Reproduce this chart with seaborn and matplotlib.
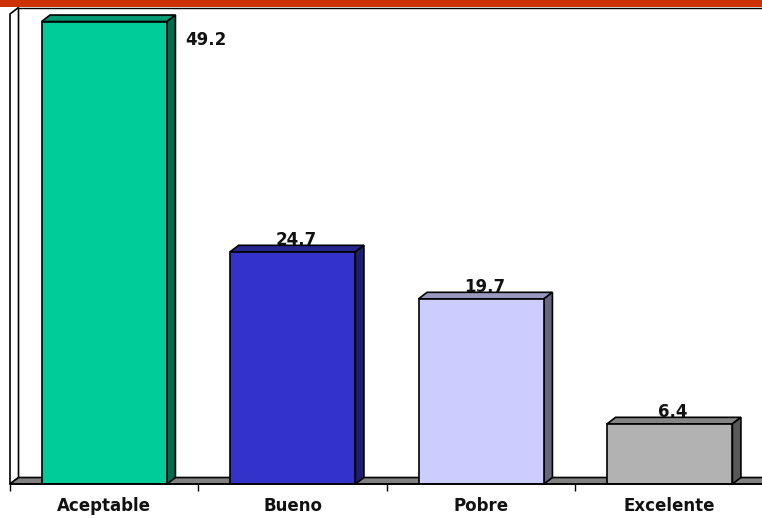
import matplotlib
matplotlib.use("Agg")
import matplotlib.pyplot as plt
from matplotlib.patches import Polygon, Rectangle
import pandas as pd
import seaborn as sns

categories = ["Aceptable", "Bueno", "Pobre", "Excelente"]
values = [49.2, 24.7, 19.7, 6.4]
front_colors = ["#00CC99", "#3333CC", "#CCCCFF", "#B2B2B2"]
top_colors = ["#009973", "#26268F", "#9999BF", "#858585"]
side_colors = ["#006B50", "#1F1F70", "#66667F", "#595959"]

WIDTH, HEIGHT = 762, 518
Y_MAX = 50
# pixel layout of the plot box
LEFT, RIGHT, BOTTOM, TOP = 10, 764, 484, 14
DEPTH_X_PX, DEPTH_Y_PX = 8.5, 6.5

sns.set_theme(style="white")
plt.rcParams["font.family"] = ["DejaVu Sans"]

fig = plt.figure(figsize=(WIDTH / 100, HEIGHT / 100), dpi=100)
ax = fig.add_axes([LEFT / WIDTH, 1 - BOTTOM / HEIGHT, (RIGHT - LEFT) / WIDTH, (BOTTOM - TOP) / HEIGHT])

df = pd.DataFrame({"categoria": categories, "valor": values})
sns.barplot(data=df, x="categoria", y="valor", hue="categoria", palette=front_colors, legend=False,
            width=0.665, saturation=1, edgecolor="black", linewidth=1.2, ax=ax, zorder=3)
ax.set_xlim(-0.5, len(categories) - 0.5)
ax.set_ylim(0, Y_MAX)

# depth of the fake 3d effect, in data units
dx = DEPTH_X_PX * (len(categories)) / (RIGHT - LEFT)
dy = DEPTH_Y_PX * Y_MAX / (BOTTOM - TOP)
x0, x1 = ax.get_xlim()

# side wall and floor
ax.add_patch(Polygon([(x0, 0), (x0 + dx, dy), (x0 + dx, Y_MAX + dy), (x0, Y_MAX)], closed=True,
                     facecolor="white", edgecolor="black", linewidth=1.2, clip_on=False, zorder=1))
ax.add_patch(Polygon([(x0, 0), (x0 + dx, dy), (x1 + dx, dy), (x1, 0)], closed=True,
                     facecolor="#808080", edgecolor="black", linewidth=1.2, clip_on=False, zorder=1))
ax.plot([x0 + dx, x1 + dx], [Y_MAX + dy, Y_MAX + dy], color="black", linewidth=1.0, clip_on=False, zorder=1)

# top and side faces of each bar
for bar, top_c, side_c in zip(ax.patches, top_colors, side_colors):
    xa, xb, h = bar.get_x(), bar.get_x() + bar.get_width(), bar.get_height()
    ax.add_patch(Polygon([(xa, h), (xa + dx, h + dy), (xb + dx, h + dy), (xb, h)], closed=True,
                         facecolor=top_c, edgecolor="black", linewidth=1.2, clip_on=False, zorder=2))
    ax.add_patch(Polygon([(xb, 0), (xb + dx, dy), (xb + dx, h + dy), (xb, h)], closed=True,
                         facecolor=side_c, edgecolor="black", linewidth=1.2, clip_on=False, zorder=2))

# value labels, first one sits beside the bar
label_font = dict(fontsize=12, fontweight="bold", color="#111111", zorder=5)
for i, (bar, v) in enumerate(zip(ax.patches, values)):
    if i == 0:
        ax.annotate(f"{v:.1f}", (bar.get_x() + bar.get_width(), v), xytext=(18, -18),
                    textcoords="offset pixels", ha="left", va="center", **label_font)
    else:
        ax.annotate(f"{v:.1f}", (bar.get_x() + bar.get_width() / 2, v), xytext=(3.5, 12),
                    textcoords="offset pixels", ha="center", va="center", **label_font)

ax.set_xlabel("")
ax.set_ylabel("")
ax.set_yticks([])
for side in ["top", "right", "left"]:
    ax.spines[side].set_visible(False)
ax.spines["bottom"].set_color("black")
ax.spines["bottom"].set_linewidth(1.2)
ax.spines["bottom"].set_zorder(4)
ax.set_xticks(range(len(categories)), categories)
ax.set_xticks([i - 0.5 for i in range(len(categories) + 1)], minor=True)
ax.tick_params(axis="x", which="major", length=0, pad=9.5, labelsize=12, labelcolor="#111111")
ax.tick_params(axis="x", which="minor", length=5, width=1, color="black", bottom=True)
for lab in ax.get_xticklabels():
    lab.set_fontweight("bold")

# red band at the very top of the slide
fig.add_artist(Rectangle((0, 1 - 7 / HEIGHT), 1, 7 / HEIGHT, transform=fig.transFigure,
                         facecolor="#CC3300", edgecolor="none", zorder=10))

fig.savefig("out.png", dpi=100)
